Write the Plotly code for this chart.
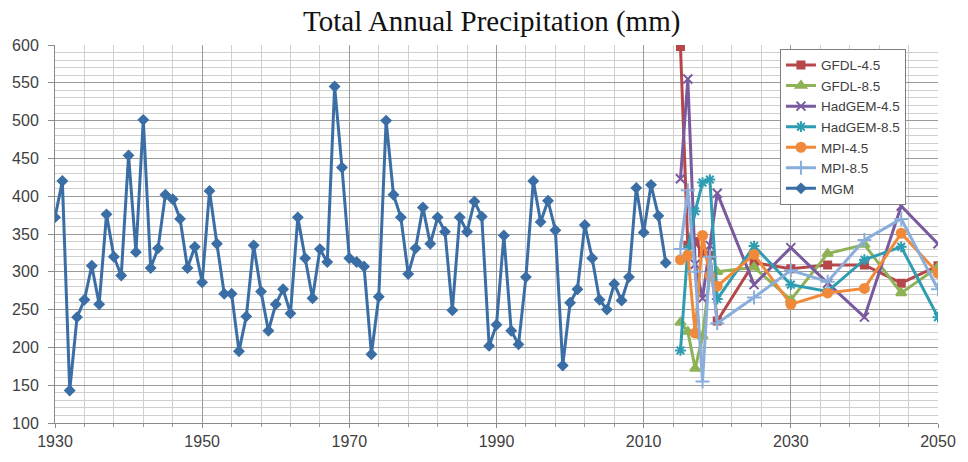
import plotly.graph_objects as go

# ---------------- data ----------------
mgm_years = list(range(1930, 2014))
mgm_values = [372, 420, 143, 240, 263, 308, 257, 376, 320, 295,
              454, 326, 501, 305, 331, 402, 396, 370, 305, 333,
              286, 407, 337, 271, 271, 195, 241, 335, 274, 222,
              257, 277, 245, 372, 318, 265, 330, 313, 545, 438,
              318, 313, 307, 191, 267, 500, 402, 372, 297, 331,
              385, 337, 372, 353, 249, 372, 353, 393, 373, 202,
              230, 348, 222, 204, 293, 420, 366, 394, 355, 176,
              259, 277, 362, 318, 263, 250, 284, 262, 293, 411,
              352, 415, 374, 312]

proj_years = [2015, 2016, 2017, 2018, 2019, 2020, 2025, 2030, 2035, 2040, 2045, 2050]
gfdl_45 = [598, 335, 340, 325, 322, 235, 312, 304, 309, 309, 285, 308]
gfdl_85 = [233, 221, 172, 215, 296, 300, 306, 263, 324, 336, 272, 306]
hadgem_45 = [423, 555, 310, 265, 335, 404, 283, 332, 285, 240, 387, 337]
hadgem_85 = [196, 330, 380, 418, 422, 264, 334, 283, 274, 316, 333, 240]
mpi_45 = [316, 322, 219, 348, 295, 281, 323, 257, 272, 278, 351, 298]
mpi_85 = [330, 408, 300, 155, 320, 232, 266, 302, 287, 342, 370, 277]

x_tick_vals = [1930, 1950, 1970, 1990, 2010, 2030, 2050]
y_tick_vals = [100, 150, 200, 250, 300, 350, 400, 450, 500, 550, 600]

# ---------------- figure ----------------
fig = go.Figure()

series = [
    ("GFDL-4.5", proj_years, gfdl_45, "#B5474B", "square", 7),
    ("GFDL-8.5", proj_years, gfdl_85, "#8DB356", "triangle-up", 9),
    ("HadGEM-4.5", proj_years, hadgem_45, "#7A5A9E", "x-thin-open", 9),
    ("HadGEM-8.5", proj_years, hadgem_85, "#2E9DB2", "asterisk-open", 9),
    ("MPI-4.5", proj_years, mpi_45, "#F08A3A", "circle", 9),
    ("MPI-8.5", proj_years, mpi_85, "#8AAEDC", "cross-thin-open", 10),
    ("MGM", mgm_years, mgm_values, "#3A6EA5", "diamond", 7),
]

for name, xs, ys, color, symbol, size in series:
    fig.add_trace(go.Scatter(
        x=xs, y=ys, name=name, mode="lines+markers",
        line=dict(color=color, width=3),
        marker=dict(symbol=symbol, size=size, color=color,
                    line=dict(color=color, width=2)),
        cliponaxis=True,
    ))

fig.update_layout(
    width=968, height=462,
    margin=dict(l=53, r=22, t=45, b=26),
    paper_bgcolor="white",
    plot_bgcolor="white",
    title=dict(text="Total Annual Precipitation (mm)",
               font=dict(family="Liberation Serif, Times New Roman, serif", size=29, color="#111111"),
               x=0.508, xanchor="center", y=0.955, yanchor="middle"),
    font=dict(family="Liberation Sans, Arial, sans-serif", color="#404040"),
    showlegend=True,
    legend=dict(
        x=0.821, y=0.99, xanchor="left", yanchor="top",
        bgcolor="white", bordercolor="#7f7f7f", borderwidth=1,
        font=dict(family="Liberation Sans, Arial, sans-serif", size=13.5, color="#404040"),
        tracegroupgap=0, itemwidth=30,
    ),
)

fig.update_xaxes(
    range=[1930, 2050],
    tickmode="array", tickvals=x_tick_vals,
    tickfont=dict(size=16, color="#404040"),
    showgrid=True, gridcolor="#9a9a9a", gridwidth=1,
    minor=dict(dtick=4, tick0=1930, showgrid=True, gridcolor="#cfcfcf", gridwidth=1,
               ticks="outside", ticklen=3, tickcolor="#9a9a9a"),
    ticks="outside", ticklen=4, tickcolor="#8a8a8a",
    showline=True, linecolor="#8a8a8a", linewidth=1,
    zeroline=False, mirror=False,
)
fig.update_yaxes(
    range=[100, 600],
    tickmode="array", tickvals=y_tick_vals,
    tickfont=dict(size=16, color="#404040"),
    showgrid=True, gridcolor="#9a9a9a", gridwidth=1,
    minor=dict(dtick=10, tick0=100, showgrid=True, gridcolor="#cfcfcf", gridwidth=1),
    ticks="outside", ticklen=6, tickcolor="#8a8a8a",
    ticklabelstandoff=6,
    showline=True, linecolor="#8a8a8a", linewidth=1,
    zeroline=False,
)

fig.write_html("out.html")
